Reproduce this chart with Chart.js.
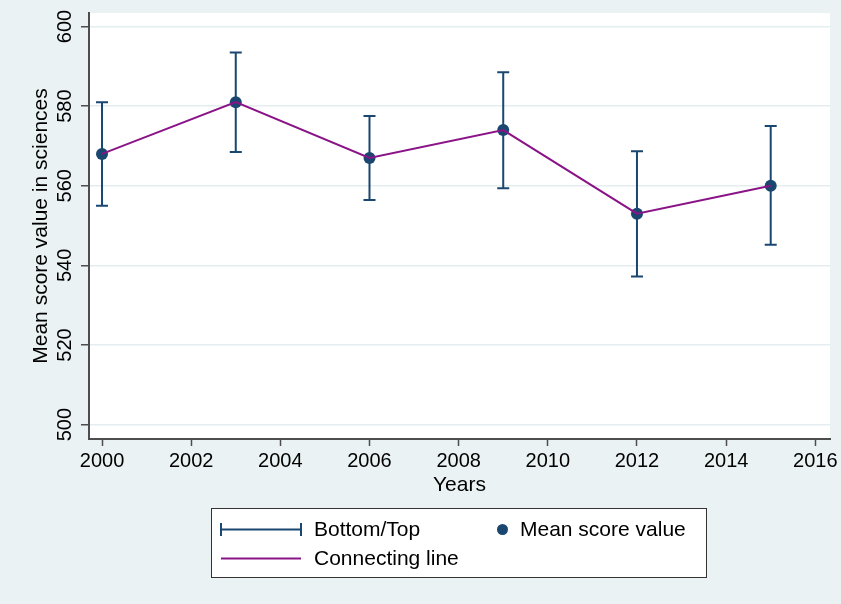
<!DOCTYPE html>
<html>
<head>
<meta charset="utf-8">
<title>Mean score value in sciences</title>
<script src="https://cdn.jsdelivr.net/npm/chart.js@4/dist/chart.umd.min.js"></script>
<style>
  html, body { margin: 0; padding: 0; background: #eaf2f3; }
  canvas { display: block; }
</style>
</head>
<body>
<canvas id="chart" width="841" height="604"></canvas>
<script>
// Survey years and the mean science score with its bottom/top range
const years = [2000, 2003, 2006, 2009, 2012, 2015];
const meanScores = [568, 581, 567, 574, 553, 560];
const topScores = [581, 593.5, 577.5, 588.5, 568.7, 575];
const bottomScores = [555, 568.5, 556.4, 559.4, 537.2, 545.2];

// Axis ticks and labels
const xTicks = [2000, 2002, 2004, 2006, 2008, 2010, 2012, 2014, 2016];
const yTicks = [500, 520, 540, 560, 580, 600];
const xTitle = 'Years';
const yTitle = 'Mean score value in sciences';
const legendLabels = ['Bottom/Top', 'Mean score value', 'Connecting line'];

const FONT = "'Liberation Sans', Arial, Helvetica, sans-serif";
const NAVY = '#1a476f';
const PURPLE = '#8a1487';
const AXIS = '#4d4d4d';
const BG = '#eaf2f3';

const points = years.map((yr, i) => ({ x: yr, y: meanScores[i] }));

// Page background and white plot region
const backgroundPlugin = {
  id: 'background',
  beforeDraw(chart) {
    const { ctx, chartArea: a } = chart;
    ctx.save();
    ctx.fillStyle = BG;
    ctx.fillRect(0, 0, chart.width, chart.height);
    ctx.fillStyle = '#ffffff';
    ctx.fillRect(a.left, a.top, a.right - a.left, a.bottom - a.top);
    ctx.restore();
  }
};

// Capped range bars from bottom to top score at each year
const rangeBarsPlugin = {
  id: 'rangeBars',
  beforeDatasetsDraw(chart) {
    const { ctx, scales: { x, y } } = chart;
    ctx.save();
    ctx.strokeStyle = NAVY;
    ctx.lineWidth = 2;
    years.forEach((yr, i) => {
      const px = x.getPixelForValue(yr);
      const pt = y.getPixelForValue(topScores[i]);
      const pb = y.getPixelForValue(bottomScores[i]);
      ctx.beginPath();
      ctx.moveTo(px, pt); ctx.lineTo(px, pb);
      ctx.moveTo(px - 6, pt); ctx.lineTo(px + 6, pt);
      ctx.moveTo(px - 6, pb); ctx.lineTo(px + 6, pb);
      ctx.stroke();
    });
    ctx.restore();
  }
};

// Vertical y tick labels and the boxed legend
const labelsPlugin = {
  id: 'labels',
  afterDraw(chart) {
    const { ctx, scales: { y } } = chart;
    ctx.save();
    ctx.fillStyle = '#000';
    ctx.font = `20px ${FONT}`;
    ctx.textAlign = 'center';
    ctx.textBaseline = 'alphabetic';
    yTicks.forEach(v => {
      const py = y.getPixelForValue(v);
      ctx.save();
      ctx.translate(71, py);
      ctx.rotate(-Math.PI / 2);
      ctx.fillText(String(v), 0, 0);
      ctx.restore();
    });

    // legend box
    ctx.fillStyle = '#ffffff';
    ctx.fillRect(211.5, 508.5, 495, 69);
    ctx.strokeStyle = '#333';
    ctx.lineWidth = 1;
    ctx.strokeRect(211.5, 508.5, 495, 69);

    // range bar key
    ctx.strokeStyle = NAVY;
    ctx.lineWidth = 2;
    ctx.beginPath();
    ctx.moveTo(221, 529.5); ctx.lineTo(301, 529.5);
    ctx.moveTo(221, 523); ctx.lineTo(221, 536);
    ctx.moveTo(301, 523); ctx.lineTo(301, 536);
    ctx.stroke();

    // marker key
    ctx.fillStyle = NAVY;
    ctx.beginPath();
    ctx.arc(502.5, 529.5, 5.5, 0, Math.PI * 2);
    ctx.fill();

    // line key
    ctx.strokeStyle = PURPLE;
    ctx.beginPath();
    ctx.moveTo(221, 558.5); ctx.lineTo(301, 558.5);
    ctx.stroke();

    ctx.fillStyle = '#000';
    ctx.font = `21px ${FONT}`;
    ctx.textAlign = 'left';
    ctx.fillText(legendLabels[0], 314, 536);
    ctx.fillText(legendLabels[1], 520, 536);
    ctx.fillText(legendLabels[2], 314, 565);
    ctx.restore();
  }
};

new Chart(document.getElementById('chart'), {
  type: 'line',
  data: {
    datasets: [
      {
        label: legendLabels[2],
        data: points,
        borderColor: PURPLE,
        borderWidth: 2,
        pointRadius: 0,
        pointHoverRadius: 0,
        tension: 0,
        fill: false,
        order: 1
      },
      {
        label: legendLabels[1],
        data: points,
        showLine: false,
        pointRadius: 6,
        pointHoverRadius: 6,
        pointBackgroundColor: NAVY,
        pointBorderColor: NAVY,
        pointBorderWidth: 0,
        order: 2
      }
    ]
  },
  options: {
    responsive: false,
    animation: false,
    devicePixelRatio: 1,
    events: [],
    layout: { padding: { left: 0, top: 13, right: 11, bottom: 0 } },
    plugins: {
      legend: { display: false },
      tooltip: { enabled: false }
    },
    scales: {
      x: {
        type: 'linear',
        position: 'bottom',
        min: 1999.708,
        max: 2016.33,
        afterBuildTicks: s => { s.ticks = xTicks.map(v => ({ value: v })); },
        afterFit: s => { s.height = 165; s.paddingLeft = 0; s.paddingRight = 0; },
        ticks: {
          color: '#000',
          font: { family: FONT, size: 20 },
          padding: 3,
          maxRotation: 0,
          autoSkip: false,
          callback: v => String(v)
        },
        grid: {
          drawOnChartArea: false,
          drawTicks: true,
          tickLength: 7,
          tickColor: AXIS,
          tickWidth: 1.5
        },
        border: { display: true, color: AXIS, width: 2 },
        title: {
          display: true,
          text: xTitle,
          color: '#000',
          font: { family: FONT, size: 21 },
          padding: { top: 0, bottom: 106.4 }
        }
      },
      y: {
        type: 'linear',
        position: 'left',
        min: 496.4,
        max: 603.4,
        afterBuildTicks: s => { s.ticks = yTicks.map(v => ({ value: v })); },
        afterFit: s => { s.width = 89; s.paddingTop = 0; s.paddingBottom = 0; },
        ticks: { display: false },
        grid: {
          color: '#e4edef',
          lineWidth: 1.5,
          drawTicks: true,
          tickLength: 8,
          tickColor: AXIS,
          tickWidth: 1.5
        },
        border: { display: true, color: AXIS, width: 2 },
        title: {
          display: true,
          text: yTitle,
          color: '#000',
          font: { family: FONT, size: 21 },
          padding: { top: 28.4, bottom: 0 }
        }
      }
    }
  },
  plugins: [backgroundPlugin, rangeBarsPlugin, labelsPlugin]
});
</script>
</body>
</html>
